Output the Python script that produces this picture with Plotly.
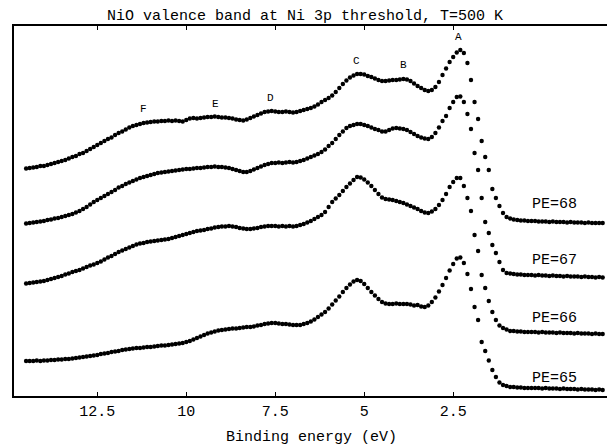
import plotly.graph_objects as go

# Binding-energy grid (eV), 0.1 eV steps from 14.5 down to -1.7
energy = [round(14.5 - 0.1 * i, 1) for i in range(163)]

# Spectra (arbitrary units, baseline ~0)
pe68 = [53.5, 54, 54.5, 55, 56,
        56, 57, 58, 59, 60, 61, 62, 63.5, 65, 66,
        68, 69, 71, 73, 75, 77, 79, 81, 83, 84.5,
        87, 89, 90.5, 92.5, 94.5, 96, 97, 98, 99, 99.5,
        100, 100.5, 100.5, 101, 101, 101.5, 101, 101.5, 101, 100.5,
        102, 103.5, 104, 103.5, 104, 104.5, 105, 105, 105.5, 105,
        104.5, 104.5, 104, 103.5, 102.5, 102, 101.5, 102.5, 104, 105.5,
        107, 108.5, 110, 110.5, 111, 110.5, 110, 110, 110.5, 110,
        109.5, 110, 111, 112, 113, 114, 115.5, 117.5, 120, 122,
        124, 126.5, 130, 134, 138, 141.5, 144.5, 146.5, 148, 148,
        147.5, 146, 145, 143.5, 142, 141, 141, 141.5, 142, 142,
        142.5, 143, 142.5, 141, 138.5, 136, 134, 132, 131, 132,
        135, 140, 147, 153.5, 160, 165, 169.5, 172, 169, 159,
        142, 120, 103, 81, 65, 52, 33, 24, 16, 9,
        5, 3.5, 2.5, 2, 1.5, 1.5, 1, 1, 1, 0.5,
        0.5, 0.5, 0, 0.5, 0, 0, 0, -0.5, 0, -0.5,
        -0.5, -0.5, -1, -0.5, -1, -1, -1, -1]

pe67 = [52.5, 53, 53.5, 54, 54.5,
        55, 56, 56.5, 57.5, 58, 59, 60, 61, 62, 63.5,
        65, 67, 69, 71.5, 74, 76, 78, 80, 82, 84,
        86, 88.5, 90, 92, 93.5, 95, 96.5, 98, 99, 100,
        101, 102, 103, 103.5, 104, 104.5, 105, 105.5, 106, 106.5,
        107, 107, 107.5, 108, 108, 108.5, 109, 109, 109.5, 109,
        109, 108.5, 108, 107, 106, 105, 104, 104, 105, 106.5,
        108, 109.5, 111, 112, 113, 113, 113.5, 113, 113.5, 114,
        113.5, 114, 115, 116, 117.5, 119, 120.5, 122, 124, 126.5,
        130, 133, 137, 141, 144.5, 148, 150, 151, 152, 152,
        151, 150, 148.5, 147, 146, 144.5, 144.5, 146, 147.5, 148,
        147.5, 147, 146, 144, 142, 140, 138.5, 137.5, 137, 139,
        143, 148.5, 155, 160, 168, 174, 179, 179.5, 174, 162,
        147, 123, 106, 78, 54, 43, 31, 23, 14, 6,
        3, 2.5, 2, 1.5, 1.5, 1, 1, 1, 0.5, 1,
        0.5, 0.5, 0, 0.5, 0, 0, -0.5, 0, -0.5, -0.5,
        -0.5, -1, -0.5, -1, -1, -1.5, -1, -1.5]

pe66 = [48.5, 49, 49.5, 50, 50.5,
        51, 52, 53, 54, 55, 56, 57.5, 58.5, 60, 61,
        62, 63.5, 65, 66.5, 67.5, 69, 70.5, 72.5, 74.5, 76,
        78, 80, 81.5, 83, 84.5, 86, 87.5, 88.5, 89, 90,
        90.5, 91, 91.5, 92, 92.5, 93, 94, 95, 96, 97,
        98, 99, 100, 101, 101.5, 102, 103, 103.5, 104.5, 105,
        105.5, 105.5, 106, 105.5, 105, 104, 103.5, 103, 103, 103.5,
        104, 105, 105.5, 106, 106, 106, 105.5, 106, 105.5, 106,
        105.5, 106, 107, 108, 109.5, 111, 113, 115, 117, 120,
        125, 130, 133.5, 137, 141, 145, 148.5, 152, 155, 154.5,
        152.5, 149.5, 146, 142, 138, 134.5, 133, 132.5, 132, 131,
        130, 129, 127.5, 126, 124.5, 123, 121, 119.5, 119, 120.5,
        123, 127, 132, 138, 145, 150, 154, 154, 146, 134,
        121, 97, 81, 57, 44, 31, 20, 12, 6.5, 4,
        2.5, 1, 1, 0.5, 0.5, 0, 0, 0, 0, -0.5,
        0, -0.5, -0.5, -0.5, -1, -0.5, -1, -1, -1, -1.5,
        -1, -1.5, -1.5, -1.5, -2, -1.5, -2, -2]

pe65 = [27, 27, 27, 27.5, 27,
        27.5, 27.5, 28, 28, 28.5, 28.5, 29, 29, 29.5, 30,
        30.5, 31, 31.5, 32, 32.5, 33, 34, 34.5, 35, 36,
        36.5, 37, 38, 38.5, 39, 39.5, 40, 40, 40.5, 41,
        41, 41.5, 42, 42.5, 42.5, 43, 43.5, 44, 44.5, 45,
        46, 47, 48.5, 50, 51.5, 53, 54.5, 55.5, 56.5, 57.5,
        58, 58.5, 59, 59.5, 59.5, 60, 60.5, 61, 61, 61.5,
        62.5, 63, 64, 64.5, 65, 65, 64.5, 64, 64, 63.5,
        63, 63, 63, 64, 65, 66.5, 68.5, 71, 73.5, 76,
        79.5, 83.5, 87.5, 91.5, 96, 100, 103.5, 106.5, 108, 107,
        104, 100, 96, 92.5, 89, 86, 84.5, 84, 84, 84.5,
        84, 84, 84, 83.5, 82.5, 83, 81.5, 81, 82.5, 86,
        90.5, 96.5, 103, 110, 117.5, 124, 129.5, 130.5, 125, 114,
        99, 81, 68, 46, 37, 27.5, 18, 11, 5.5, 3,
        2, 1, 1, 0.5, 0.5, 0, 0, 0, 0, 0,
        -0.5, 0, -0.5, -0.5, -0.5, -1, -0.5, -1, -1, -1,
        -1.5, -1, -1.5, -1.5, -1.5, -2, -1.5, -2]

series_names = ["PE=68", "PE=67", "PE=66", "PE=65"]
spectra = [pe68, pe67, pe66, pe65]

peak_labels = ["A", "B", "C", "D", "E", "F"]
tick_vals = [12.5, 10, 7.5, 5, 2.5]
tick_text = ["12.5", "10", "7.5", "5", "2.5"]

# layout-only constants (stacking offsets and label placements)
offsets = [174, 120, 64, 8]
pe_label_pos = [(-0.36, 192), (-0.36, 136), (-0.36, 78), (-0.36, 18)]
peak_label_pos = [(2.34, 359), (3.885, 331), (5.205, 335), (7.62, 298), (9.166, 292), (11.19, 287)]

FONT = "Liberation Mono, Courier New, monospace"

fig = go.Figure()
for name, spec, off in zip(series_names, spectra, offsets):
    assert len(spec) == len(energy)
    fig.add_trace(go.Scatter(
        x=energy, y=[v + off for v in spec], mode="markers", name=name,
        marker=dict(color="black", size=4.4, line=dict(width=0)),
        showlegend=False, hoverinfo="x+y+name", cliponaxis=False))

annotations = []
for txt, (x, y) in zip(series_names, pe_label_pos):
    annotations.append(dict(x=x, y=y, xref="x", yref="y", text=txt, showarrow=False,
                            font=dict(family=FONT, size=15, color="black"),
                            xanchor="center", yanchor="middle"))
for txt, (x, y) in zip(peak_labels, peak_label_pos):
    annotations.append(dict(x=x, y=y, xref="x", yref="y", text=txt, showarrow=False,
                            font=dict(family=FONT, size=11, color="black"),
                            xanchor="center", yanchor="middle"))
annotations.append(dict(x=0.496, y=-0.111, xref="paper", yref="paper",
                        text="Binding energy (eV)", showarrow=False,
                        font=dict(family=FONT, size=15, color="black"),
                        xanchor="center", yanchor="middle"))

# the page body adds an 8 px margin, so the figure is laid out 8 px up/left
fig.update_layout(
    width=615, height=445,
    margin=dict(l=6, r=10, t=18, b=57, autoexpand=False),
    paper_bgcolor="white", plot_bgcolor="white",
    title=dict(text="NiO valence band at Ni 3p threshold, T=500 K",
               x=297 / 615, xref="container", y=1 - 7 / 445, yref="container",
               xanchor="center", yanchor="middle",
               font=dict(family=FONT, size=15, color="black")),
    xaxis=dict(range=[14.84, -1.99], tickvals=tick_vals, ticktext=tick_text,
               ticks="inside", ticklen=4, tickwidth=1, tickcolor="black",
               showline=True, linecolor="black", linewidth=1.5, mirror="ticks",
               showgrid=False, zeroline=False, automargin=False,
               tickfont=dict(family=FONT, size=15, color="black")),
    yaxis=dict(range=[0, 370], showticklabels=False, ticks="",
               showline=True, linecolor="black", linewidth=1.5, mirror=False,
               showgrid=False, zeroline=False, automargin=False),
    annotations=annotations,
    shapes=[dict(type="line", xref="paper", yref="paper", x0=1, x1=1, y0=0, y1=1,
                 line=dict(color="#b0b0b0", width=1))],
)

fig.write_html("out.html")
